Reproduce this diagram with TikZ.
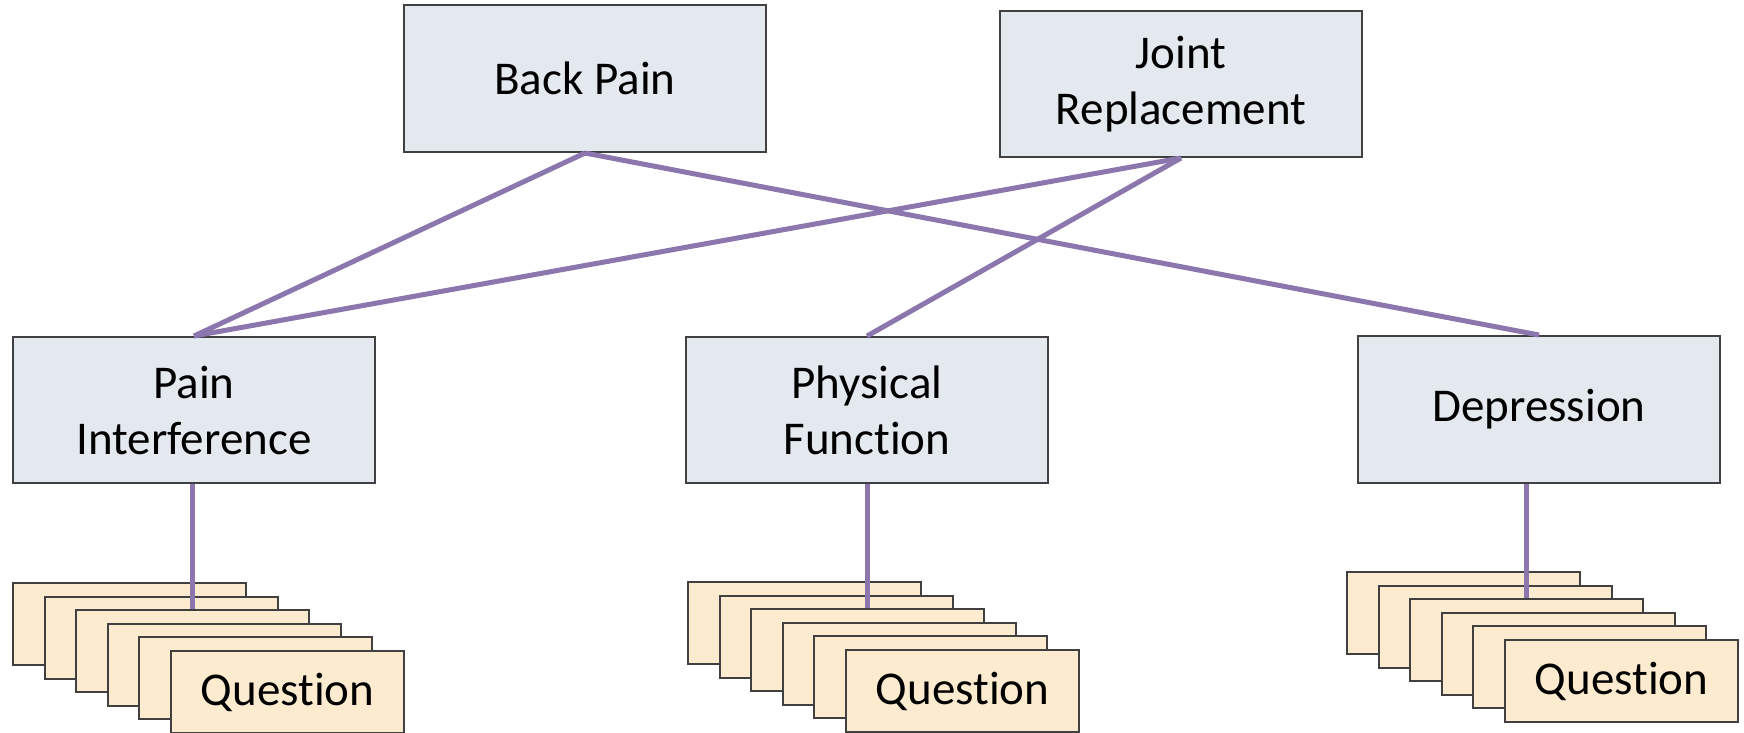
\documentclass[tikz,border=0pt]{standalone}
\usepackage{fontspec}
\setmainfont[Ligatures=NoCommon]{Carlito}
\definecolor{boxfill}{HTML}{E4E9F0}
\definecolor{cardfill}{HTML}{FCEBCF}
\definecolor{bordercol}{HTML}{404040}
\definecolor{linkcol}{HTML}{8B76AD}
\tikzset{
  cat/.style={draw=bordercol, line width=2pt, fill=boxfill, minimum width=362pt, minimum height=146pt,
    inner sep=0pt, align=center, font=\fontsize{47}{56}\selectfont, anchor=north west},
  card/.style={draw=bordercol, line width=2pt, fill=cardfill, minimum width=233pt, minimum height=82pt,
    inner sep=0pt, anchor=north west, font=\fontsize{47}{56}\selectfont},
  link/.style={draw=linkcol, line width=5pt}
}
\begin{document}
\begin{tikzpicture}[x=1pt, y=-1pt]
\path[use as bounding box, clip] (0,0) rectangle (1744,732);
\fill[white] (0,0) rectangle (1744,732);
% top level
\node[cat, minimum height=147pt] (bp) at (403,4) {Back Pain};
\node[cat] (jr) at (999,10) {Joint\\Replacement};
% second level
\node[cat] (pi) at (12,336) {Pain\\Interference};
\node[cat] (pf) at (685,336) {Physical\\Function};
\node[cat, minimum height=147pt] (dp) at (1357,335) {Depression};
% question stacks
\foreach \k in {1,...,5} {
  \node[card] (l\k) at ({12+31.6*(\k-1)},{582+13.6*(\k-1)}) {};
  \node[card] (m\k) at ({687+31.6*(\k-1)},{581+13.6*(\k-1)}) {};
  \node[card] (r\k) at ({1346+31.6*(\k-1)},{571+13.6*(\k-1)}) {};
}
\node[card] (l6) at ({12+31.6*5},{582+13.6*5}) {Question};
\node[card] (m6) at ({687+31.6*5},{581+13.6*5}) {Question};
\node[card] (r6) at ({1346+31.6*5},{571+13.6*5}) {Question};
% links
\draw[link] (bp.south) -- (pi.north);
\draw[link] (bp.south) -- (dp.north);
\draw[link] (jr.south) -- (pi.north);
\draw[link] (jr.south) -- (pf.north);
\draw[link] (pi.south -| l3.north) -- (l3.north);
\draw[link] (pf.south -| m3.north) -- (m3.north);
\draw[link] (dp.south -| r3.north) -- (r3.north);
\end{tikzpicture}
\end{document}
